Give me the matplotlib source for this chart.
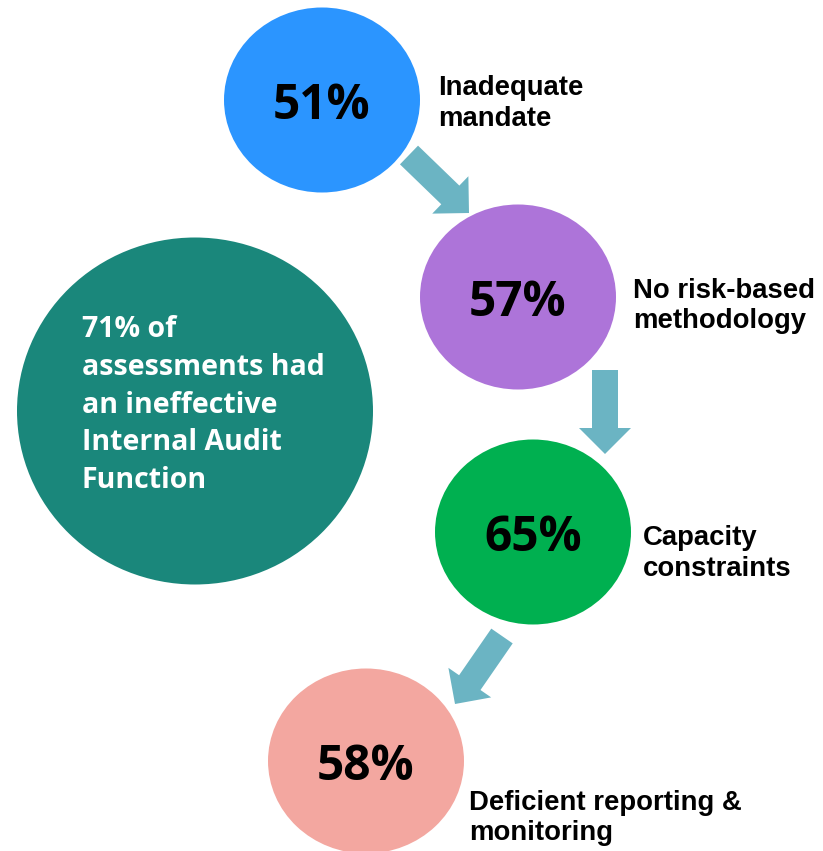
import matplotlib
matplotlib.use('Agg')
import matplotlib.pyplot as plt
from matplotlib.patches import Ellipse, FancyArrow

# data
percents = ['51%', '57%', '65%', '58%']
labels = ['Inadequate\nmandate', 'No risk-based\nmethodology',
          'Capacity\nconstraints', 'Deficient reporting &\nmonitoring']
colors = ['#2B95FF', '#AD74D9', '#00B050', '#F3A7A0']
summary_text = '71% of\nassessments had\nan ineffective\nInternal Audit\nFunction'

# layout (pixel coords, y downwards)
centers = [(322, 100), (518, 297), (533, 532), (366, 761)]
label_pos = [(438, 95), (633, 298), (643, 545), (469, 810)]
arrows = [((409, 155), (469, 213)), ((605, 370), (605, 454)), ((502, 636), (455, 704))]

W, H = 823, 851
fig = plt.figure(figsize=(W / 100, H / 100), dpi=100)
ax = fig.add_axes([0, 0, 1, 1])
ax.set_xlim(0, W)
ax.set_ylim(H, 0)
ax.axis('off')

arrow_col = '#6BB4C3'
for (x0, y0), (x1, y1) in arrows:
    ax.add_patch(FancyArrow(x0, y0, x1 - x0, y1 - y0, width=26, head_width=52,
                            head_length=26, length_includes_head=True,
                            color=arrow_col, lw=0, zorder=1))

# big summary circle
ax.add_patch(Ellipse((195, 411), 356, 347, color='#1A877B', lw=0, zorder=2))
for k, line in enumerate(summary_text.split('\n')):
    ax.text(82, 337 + 37.8 * k, line, color='white', fontsize=20.5, fontweight='bold',
            family='Open Sans', va='baseline', ha='left', zorder=3)

for i in range(len(percents)):
    cx, cy = centers[i]
    ax.add_patch(Ellipse((cx, cy), 196, 185, color=colors[i], lw=0, zorder=2))
    ax.text(cx, cy + 19, percents[i], fontsize=34.5, fontweight='bold',
            family='Open Sans', ha='center', va='baseline', color='black', zorder=3)
    lx, ly = label_pos[i]
    for k, line in enumerate(labels[i].split('\n')):
        ax.text(lx, ly + 30.5 * k, line, fontsize=19.8, fontweight='bold',
                family='Liberation Sans', ha='left', va='baseline', color='black', zorder=3)

fig.savefig('out.png', dpi=100, facecolor='white')
